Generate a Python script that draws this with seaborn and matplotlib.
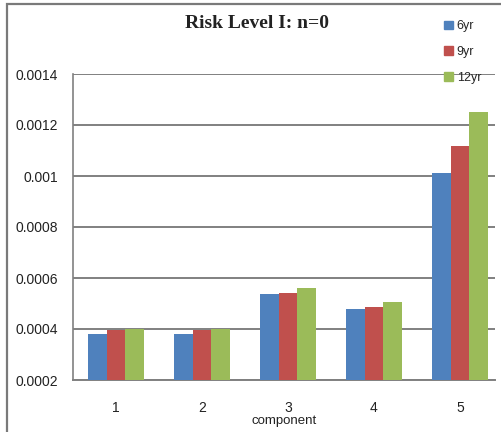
import matplotlib
matplotlib.use("Agg")
import matplotlib.pyplot as plt
from matplotlib.patches import Rectangle
import seaborn as sns
import pandas as pd

components = ["1", "2", "3", "4", "5"]
series_names = ["6yr", "9yr", "12yr"]
vals_6yr = [0.000380, 0.000380, 0.000536, 0.000480, 0.001010]
vals_9yr = [0.000396, 0.000396, 0.000542, 0.000485, 0.001118]
vals_12yr = [0.000400, 0.000400, 0.000560, 0.000505, 0.001250]
y_ticks = [0.0002, 0.0004, 0.0006, 0.0008, 0.001, 0.0012, 0.0014]
y_tick_labels = ["0.0002", "0.0004", "0.0006", "0.0008", "0.001", "0.0012", "0.0014"]
colors = ["#4F81BD", "#C0504D", "#9BBB59"]

rows = []
for name, vals in zip(series_names, [vals_6yr, vals_9yr, vals_12yr]):
    for c, v in zip(components, vals):
        rows.append({"component": c, "series": name, "value": v})
df = pd.DataFrame(rows)

sns.set_style("white")
plt.rcParams["font.family"] = ["Liberation Sans", "DejaVu Sans"]

W, H = 502, 432
fig = plt.figure(figsize=(W / 100, H / 100), dpi=100)
left, right, top, bottom = 73, 495, 74, 380
ax = fig.add_axes([left / W, 1 - bottom / H, (right - left) / W, (bottom - top) / H])

sns.barplot(data=df, x="component", y="value", hue="series", order=components,
            hue_order=series_names, palette=colors, width=0.65, ax=ax,
            saturation=1, edgecolor="none", legend=False, zorder=3)

ax.set_xlim(-0.5, -0.5 + (right - left) / 86.0)
ax.set_ylim(0.0002, 0.0014)
ax.set_yticks(y_ticks)
ax.set_yticklabels(y_tick_labels)
ax.yaxis.grid(True, color="#808080", linewidth=1.4, zorder=0)
ax.set_axisbelow(True)
for s in ["top", "right"]:
    ax.spines[s].set_visible(False)
ax.spines["left"].set_color("#808080")
ax.spines["bottom"].set_color("#808080")
ax.spines["left"].set_linewidth(1.2)
ax.spines["bottom"].set_linewidth(1.4)
ax.tick_params(axis="y", length=0, labelsize=10, colors="#222222", pad=11)
ax.tick_params(axis="x", length=0, labelsize=10, colors="#222222", pad=15)
ax.set_ylabel("")
ax.set_xlabel("component", fontsize=9.5, color="#222222", labelpad=0)

fig.text(257 / W, 1 - 24 / H, "Risk Level I: n=0", ha="center", va="center",
         fontsize=14, fontweight="bold", family="Liberation Serif", color="#222222")

handles = [Rectangle((0, 0), 1, 1, color=c) for c in colors]
fig.legend(handles, series_names, loc="upper left", bbox_to_anchor=(438 / W, 1 - 14 / H),
           frameon=False, fontsize=9, handlelength=0.7, handleheight=0.7,
           handletextpad=0.3, labelspacing=1.1, borderpad=0)

# outer chart frame
fig.patches.append(Rectangle((7 / W, -0.05), 1.1, 1 - 4 / H + 0.05, transform=fig.transFigure,
                             fill=False, edgecolor="#7a7a7a", linewidth=1.6, zorder=0))

fig.savefig("out.png", dpi=100, facecolor="white")
